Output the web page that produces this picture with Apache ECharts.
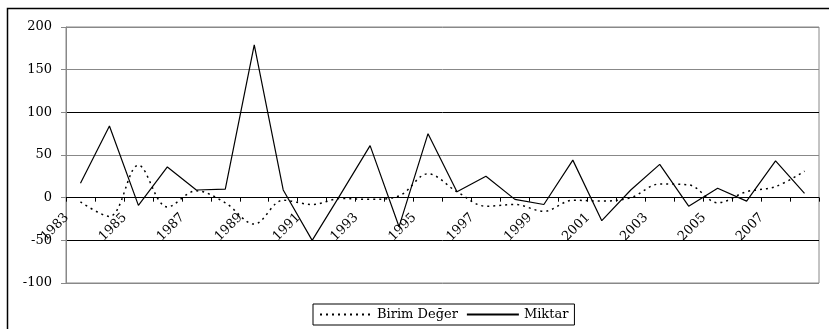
<!DOCTYPE html>
<html>
<head>
<meta charset="utf-8">
<script src="https://cdn.jsdelivr.net/npm/echarts@6/dist/echarts.min.js"></script>
<style>html,body{margin:0;padding:0;background:#fff}#c{width:829px;height:329px}</style>
</head>
<body>
<div id="c"></div>
<script>
const years = ['1983','1984','1985','1986','1987','1988','1989','1990','1991','1992','1993','1994','1995','1996','1997','1998','1999','2000','2001','2002','2003','2004','2005','2006','2007','2008'];
const birimDeger = [-5, -22, 38, -11, 8, -6, -31, -3, -8, -1, -2, 2, 28, 7, -10, -8, -16, -3, -4, 0, 16, 15, -6, 7, 13, 31];
const miktar = [17, 84, -9, 36, 9, 10, 179, 9, -50, 5, 61, -34, 75, 7, 25, -2, -8, 44, -27, 9, 39, -10, 11, -4, 43, 5];
const yTicks = {min: -100, max: 200, interval: 50};

const chart = echarts.init(document.getElementById('c'), null, {renderer: 'canvas'});
const font = 'DejaVu Serif';
const gridTop = 27, gridBottom = 46, H = 329;
const plotH = H - gridTop - gridBottom;
const zeroOffset = -plotH * (0 - yTicks.min) / (yTicks.max - yTicks.min);
chart.setOption({
  animation: false,
  backgroundColor: '#fff',
  graphic: [{
    type: 'rect', left: 5, top: 6, silent: true,
    shape: {width: 830, height: 330},
    style: {fill: 'none', stroke: '#000', lineWidth: 1.5}
  }],
  grid: {left: 66, right: 10, top: gridTop, bottom: gridBottom, show: true, borderColor: '#888', borderWidth: 1, backgroundColor: 'transparent'},
  legend: {
    left: 313, top: 304,
    itemWidth: 52, itemHeight: 8, itemGap: 8,
    borderColor: '#000', borderWidth: 1, padding: [4, 6, 4, 6],
    itemStyle: {opacity: 0},
    textStyle: {fontFamily: font, fontSize: 13, color: '#000'},
    data: ['Birim Değer', 'Miktar']
  },
  xAxis: {
    type: 'category', data: years, boundaryGap: true,
    offset: zeroOffset,
    axisLine: {show: true, onZero: false, lineStyle: {color: '#000', width: 1}},
    axisTick: {show: true, interval: 0, length: 4, lineStyle: {color: '#000'}},
    axisLabel: {interval: 1, rotate: 45, margin: 4, fontFamily: font, fontSize: 13, color: '#000',
      formatter: v => v + '\u2002\u2002\u2002'},
    splitLine: {show: false}
  },
  yAxis: {
    type: 'value', min: yTicks.min, max: yTicks.max, interval: yTicks.interval,
    axisLine: {show: true, lineStyle: {color: '#888'}},
    axisTick: {show: true, length: 5, lineStyle: {color: '#888'}},
    axisLabel: {margin: 14, fontFamily: font, fontSize: 13, color: '#000'},
    splitLine: {show: true, lineStyle: {color: ['#888', '#000', '#000', '#888', '#000', '#888', '#888'], width: 1}}
  },
  series: [
    {
      name: 'Birim Değer', type: 'line', data: birimDeger, smooth: 0.35,
      symbol: 'none', showSymbol: false,
      lineStyle: {color: '#000', width: 1.5, type: [2, 4]},
      itemStyle: {color: '#000'}
    },
    {
      name: 'Miktar', type: 'line', data: miktar, smooth: false,
      symbol: 'none', showSymbol: false,
      lineStyle: {color: '#000', width: 1.2, type: 'solid'},
      itemStyle: {color: '#000'}
    }
  ]
});
</script>
</body>
</html>
